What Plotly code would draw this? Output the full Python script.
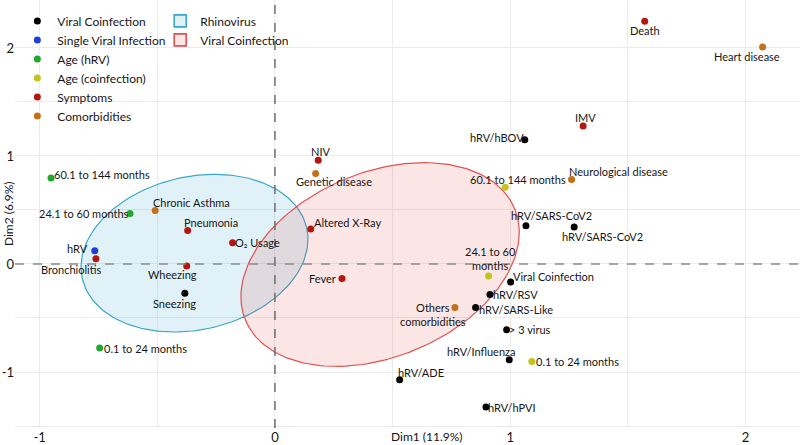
import numpy as np
import plotly.graph_objects as go

# ---------------- data ----------------
viral_names = ["Sneezing", "hRV/hBOV", "hRV/SARS-CoV2", "hRV/SARS-CoV2", "Viral Coinfection",
               "hRV/RSV", "hRV/SARS-Like", "> 3 virus", "hRV/Influenza", "hRV/ADE", "hRV/hPVI"]
viral_dim1 = [-0.383, 1.062, 1.067, 1.272, 1.002, 0.914, 0.853, 0.985, 0.996, 0.530, 0.897]
viral_dim2 = [-0.271, 1.151, 0.354, 0.342, -0.166, -0.283, -0.403, -0.609, -0.886, -1.071, -1.323]

single_names = ["hRV"]
single_dim1 = [-0.766]
single_dim2 = [0.123]

age_hrv_names = ["60.1 to 144 months", "24.1 to 60 months", "0.1 to 24 months"]
age_hrv_dim1 = [-0.952, -0.616, -0.745]
age_hrv_dim2 = [0.797, 0.468, -0.779]

age_coinf_names = ["60.1 to 144 months", "24.1 to 60<br>months", "0.1 to 24 months"]
age_coinf_dim1 = [0.979, 0.908, 1.092]
age_coinf_dim2 = [0.711, -0.111, -0.902]

symptom_names = ["Pneumonia", "O\u2082 Usage", "Bronchiolitis", "Wheezing", "NIV",
                 "Altered X-Ray", "Fever", "Death", "IMV"]
symptom_dim1 = [-0.371, -0.180, -0.761, -0.375, 0.184, 0.152, 0.285, 1.572, 1.310]
symptom_dim2 = [0.311, 0.197, 0.049, -0.018, 0.960, 0.323, -0.135, 2.247, 1.277]

comorb_names = ["Chronic Asthma", "Genetic disease", "Neurological disease",
                "Others<br>comorbidities", "Heart disease"]
comorb_dim1 = [-0.509, 0.173, 1.261, 0.765, 2.073]
comorb_dim2 = [0.496, 0.837, 0.782, -0.403, 2.010]

# confidence ellipses: centre and two semi-axis vectors (Dim1, Dim2)
rhino_center = (-0.342, 0.100)
rhino_axis_a = (0.477, 0.235)
rhino_axis_b = (-0.072, 0.691)
coinf_center = (0.447, -0.005)
coinf_axis_a = (0.572, 0.517)
coinf_axis_b = (-0.151, 0.789)

x_ticks = [-1, 0, 1, 2]
y_ticks = [-1, 0, 1, 2]
x_title = "Dim1 (11.9%)"
y_title = "Dim2 (6.9%)"

# ---------------- label offsets (pixels: right, down) ----------------
viral_shift = [(-10, 10), (-28, -2), (26, -10), (28, 9), (43, -5), (26, 0), (40, 2),
               (23, 0), (-28, -8), (21, -7), (26, 1)]
single_shift = [(-17, -2)]
age_hrv_shift = [(51, -3), (-46, 0), (46, 0)]
age_coinf_shift = [(13, -8), (2, -17), (46, 0)]
symptom_shift = [(23, -8), (25, 0), (-25, 11), (-14, 9), (2, -9), (37, -7), (-19, 0), (0, 9), (2, -9)]
comorb_shift = [(36, -8), (18, 8), (47, -8), (-22, 7), (-16, 10)]

FONT = "Lato"
groups = [
    ("Viral Coinfection", "#000000", viral_names, viral_dim1, viral_dim2, viral_shift),
    ("Single Viral Infection", "#1b3fd8", single_names, single_dim1, single_dim2, single_shift),
    ("Age (hRV)", "#22a82e", age_hrv_names, age_hrv_dim1, age_hrv_dim2, age_hrv_shift),
    ("Age (coinfection)", "#c4c41c", age_coinf_names, age_coinf_dim1, age_coinf_dim2, age_coinf_shift),
    ("Symptoms", "#b3170f", symptom_names, symptom_dim1, symptom_dim2, symptom_shift),
    ("Comorbidities", "#c4701a", comorb_names, comorb_dim1, comorb_dim2, comorb_shift),
]


def ellipse_path(center, a, b, n=200):
    t = np.linspace(0, 2 * np.pi, n)
    x = center[0] + a[0] * np.cos(t) + b[0] * np.sin(t)
    y = center[1] + a[1] * np.cos(t) + b[1] * np.sin(t)
    return x, y


fig = go.Figure()

ell = [
    ("Rhinovirus", rhino_center, rhino_axis_a, rhino_axis_b, "#3aa7c8", "rgba(70,170,210,0.17)"),
    ("Viral Coinfection ", coinf_center, coinf_axis_a, coinf_axis_b, "#e05252", "rgba(230,80,80,0.15)"),
]
for name, c, a, b, lc, fc in ell:
    ex, ey = ellipse_path(c, a, b)
    fig.add_trace(go.Scatter(x=ex, y=ey, mode="lines", fill="toself", fillcolor=fc,
                             line=dict(color=lc, width=1.2), hoverinfo="skip",
                             showlegend=False, legendgroup=name))
    fig.add_trace(go.Scatter(x=[None], y=[None], mode="markers", name=name.strip(),
                             legend="legend2", legendgroup=name,
                             marker=dict(symbol="square", size=12, color=fc,
                                         line=dict(color=lc, width=1.6))))

annotations = []
for name, color, labels, xs, ys, shifts in groups:
    fig.add_trace(go.Scatter(x=xs, y=ys, mode="markers", name=name, text=labels,
                             marker=dict(color=color, size=7),
                             hovertemplate="%{text}<extra>" + name + "</extra>"))
    for lab, xv, yv, (dx, dy) in zip(labels, xs, ys, shifts):
        annotations.append(dict(x=xv, y=yv, xref="x", yref="y", text=lab, showarrow=False,
                                xshift=dx, yshift=-dy, xanchor="center", yanchor="middle",
                                align="center",
                                font=dict(family=FONT, size=11, color="#161616")))

annotations.append(dict(x=0.525, y=-0.021, xref="paper", yref="paper", text=x_title,
                        showarrow=False, xanchor="center", yanchor="middle",
                        font=dict(family=FONT, size=12, color="#161616")))
annotations.append(dict(x=-0.0089, y=0.50, xref="paper", yref="paper", text=y_title,
                        showarrow=False, textangle=-90, xanchor="center", yanchor="middle",
                        font=dict(family=FONT, size=12, color="#161616")))

grid = "#ebebeb"
fig.update_layout(
    width=800, height=445,
    margin=dict(l=15, r=0, t=0, b=17),
    paper_bgcolor="white", plot_bgcolor="white",
    font=dict(family=FONT, size=13, color="#161616"),
    xaxis=dict(range=[-1.105, 2.232], tickvals=x_ticks, ticktext=[str(v) for v in x_ticks],
               showgrid=True, gridcolor=grid, gridwidth=1, zeroline=False,
               minor=dict(dtick=0.5, tick0=0, showgrid=True, gridcolor=grid, gridwidth=1),
               ticks="", showline=False, automargin=False, fixedrange=True,
               tickfont=dict(size=13, color="#161616")),
    yaxis=dict(range=[-1.5185, 2.444], tickvals=y_ticks, ticktext=[str(v) for v in y_ticks],
               showgrid=True, gridcolor=grid, gridwidth=1, zeroline=False,
               minor=dict(dtick=0.5, tick0=0, showgrid=True, gridcolor=grid, gridwidth=1),
               ticks="", showline=False, automargin=False, fixedrange=True,
               tickfont=dict(size=13, color="#161616")),
    legend=dict(x=0.003, y=0.985, xanchor="left", yanchor="top", bgcolor="rgba(0,0,0,0)",
                font=dict(family=FONT, size=12, color="#161616"), traceorder="normal"),
    legend2=dict(x=0.185, y=0.985, xanchor="left", yanchor="top", bgcolor="rgba(0,0,0,0)",
                 tracegroupgap=0,
                 font=dict(family=FONT, size=12, color="#161616")),
    annotations=annotations,
    shapes=[
        dict(type="line", xref="x", yref="paper", x0=0, x1=0, y0=0, y1=1,
             line=dict(color="#6e6e6e", width=1.5, dash="dash"), layer="above"),
        dict(type="line", xref="paper", yref="y", x0=0, x1=1, y0=0, y1=0,
             line=dict(color="#8c8c8c", width=1.5, dash="dash"), layer="above"),
    ],
)

fig.write_html("out.html", config={"displayModeBar": False},
               post_script="document.body.style.margin='0px';")
